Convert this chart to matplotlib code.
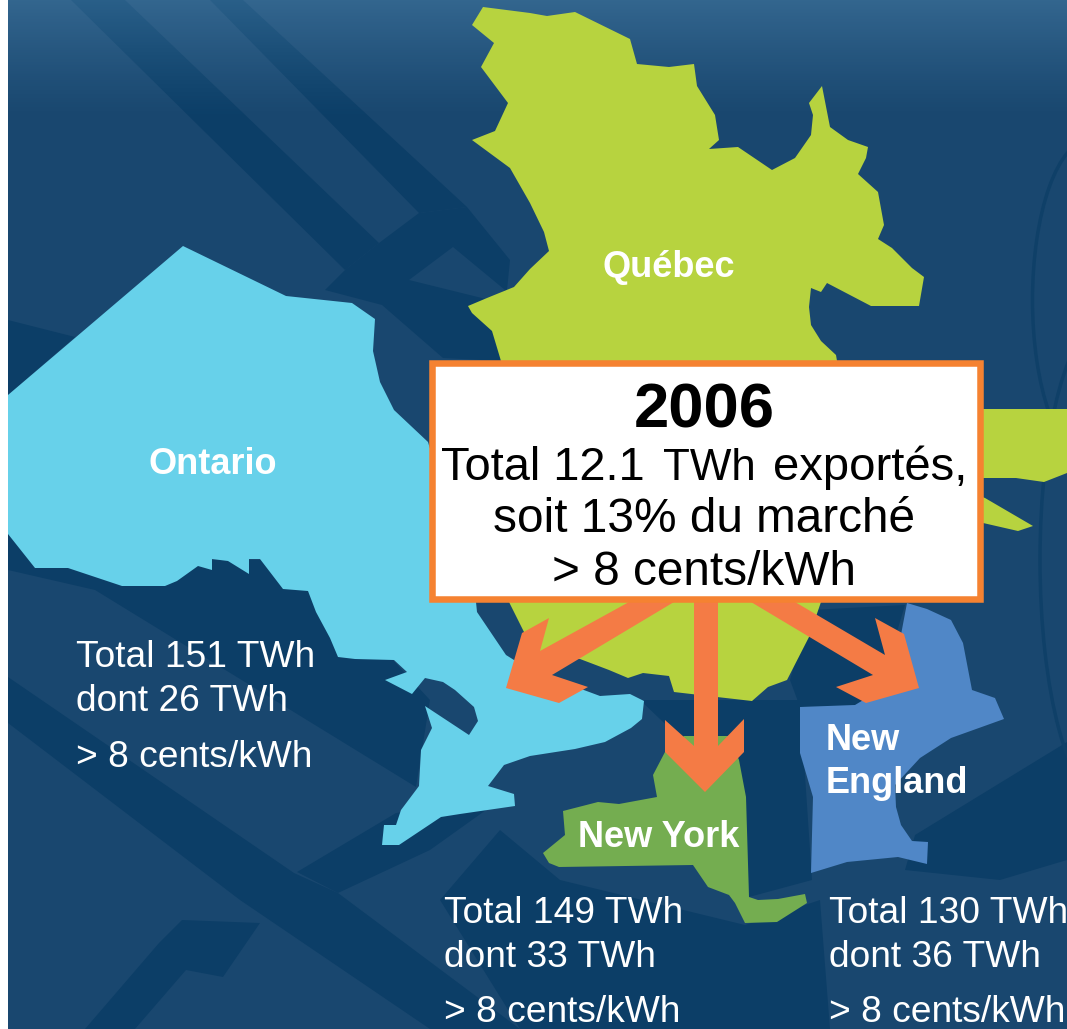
import numpy as np
import matplotlib
matplotlib.use('Agg')
import matplotlib.pyplot as plt
from matplotlib.patches import Polygon, Rectangle, Arc

plt.rcParams['font.family'] = ['Liberation Sans', 'DejaVu Sans']

# Region outlines in pixels (x, y)
quebec = [(483, 7), (530, 13), (547, 16), (575, 12), (630, 39), (637, 64), (669, 67), (694, 64),
          (697, 86), (715, 115), (719, 140), (709, 149), (738, 147), (772, 170), (795, 158),
          (811, 135), (813, 115), (809, 103), (822, 86), (830, 127), (848, 140), (868, 147),
          (866, 158), (858, 174), (878, 192), (884, 225), (878, 239), (892, 248), (912, 268),
          (924, 277), (919, 306), (871, 306), (827, 283), (821, 292), (811, 288), (809, 307),
          (811, 325), (821, 341), (836, 355), (837, 361), (821, 602), (809, 637), (787, 680),
          (768, 687), (752, 701), (717, 697), (674, 692), (669, 676), (643, 673), (628, 678),
          (609, 670), (580, 659), (540, 655), (524, 632), (509, 602), (501, 361), (492, 331),
          (472, 313), (468, 306), (487, 298), (514, 287), (530, 269), (549, 251), (544, 232),
          (530, 203), (510, 168), (472, 140), (495, 131), (508, 103), (481, 67), (494, 43),
          (472, 25)]
quebec_east = [(970, 409), (1067, 409), (1067, 473), (1044, 482), (1016, 478), (970, 478)]
quebec_tip = [(970, 492), (985, 498), (1033, 526), (1018, 531), (970, 520)]
ontario = [(8, 395), (183, 246), (286, 296), (352, 303), (375, 319), (373, 351), (380, 382),
           (394, 410), (428, 442), (476, 602), (477, 612), (506, 655), (530, 670), (600, 696),
           (630, 694), (644, 701), (642, 719), (631, 728), (605, 742), (575, 749), (530, 756),
           (504, 765), (488, 786), (514, 794), (515, 806), (460, 814), (441, 817), (399, 845),
           (382, 845), (384, 825), (396, 825), (401, 810), (419, 786), (421, 750), (432, 728),
           (425, 706), (469, 735), (478, 721), (474, 707), (455, 690), (443, 682), (425, 678),
           (412, 694), (385, 680), (407, 672), (394, 660), (355, 659), (338, 657), (330, 638),
           (316, 612), (308, 591), (283, 589), (260, 559), (249, 559), (249, 574), (228, 561),
           (212, 559), (212, 570), (198, 566), (177, 581), (165, 586), (122, 586), (68, 568),
           (35, 568), (8, 534)]
new_york = [(684, 736), (729, 736), (739, 760), (746, 797), (749, 897), (758, 900), (778, 899),
            (805, 894), (807, 903), (777, 922), (745, 923), (735, 903), (729, 895), (708, 887),
            (693, 865), (559, 867), (549, 863), (543, 853), (565, 835), (563, 811), (598, 802),
            (619, 804), (657, 797), (653, 775), (665, 752)]
new_england = [(907, 603), (927, 609), (951, 620), (963, 643), (972, 690), (995, 698), (1004, 719),
               (951, 738), (920, 758), (895, 785), (896, 807), (901, 825), (912, 841), (928, 842),
               (927, 864), (898, 857), (847, 862), (811, 873), (813, 797), (800, 753), (800, 707),
               (855, 705), (880, 690), (900, 640)]

arrow_left = [(629, 602), (674, 602), (552, 675), (588, 687), (559, 703), (506, 688), (522, 633),
              (549, 618), (540, 651)]
arrow_mid = [(694, 602), (718, 602), (718, 746), (744, 719), (744, 752), (705, 792), (665, 752),
             (665, 720), (694, 746)]
arrow_right = [(751, 602), (795, 602), (885, 655), (875, 618), (904, 634), (919, 688), (866, 703),
               (836, 687), (873, 675)]

# darker strips of the background photo
bands = [
    [(71, 0), (125, 0), (379, 243), (345, 270)],
    [(210, 0), (243, 0), (467, 207), (419, 213)],
    [(345, 270), (379, 243), (419, 213), (467, 207), (510, 260), (500, 361), (443, 358),
     (382, 305), (325, 290)],
    [(8, 320), (75, 337), (8, 395)],
    [(8, 534), (8, 570), (95, 590), (416, 787), (430, 700), (300, 560), (100, 560)],
    [(396, 813), (297, 872), (338, 893), (430, 850), (500, 800)],
    [(8, 677), (294, 873), (338, 893), (520, 1029), (430, 1029), (240, 900), (8, 723)],
    [(159, 943), (182, 920), (260, 923), (223, 977), (186, 970), (135, 1029), (85, 1029)],
    [(500, 830), (560, 880), (745, 925), (820, 900), (830, 1029), (520, 1029), (440, 900)],
    [(640, 700), (800, 700), (812, 880), (749, 897), (745, 800)],
    [(915, 835), (1067, 742), (1067, 860), (1000, 880), (905, 870)],
    [(810, 610), (905, 605), (875, 705), (800, 707), (790, 680)],
]
# lighter square left inside the crossing of the strips
light_patches = [[(453, 247), (505, 290), (490, 300), (409, 280)]]
gradient_top = [0.5, 0.75, 0.92]

region_names = ['Québec', 'Ontario', 'New York', 'New', 'England']
region_x = [603, 148, 578, 826, 826]
region_y = [277, 474, 847, 750, 793]

side_lines = [
    ['Total 151 TWh', 'dont 26 TWh', '> 8 cents/kWh'],
    ['Total 149 TWh', 'dont 33 TWh', '> 8 cents/kWh'],
    ['Total 130 TWh', 'dont 36 TWh', '> 8 cents/kWh'],
]
side_x = [76, 444, 829]
side_y = [[667, 711, 767], [923, 967, 1022], [923, 967, 1022]]

fig = plt.figure(figsize=(10.67, 10.29), dpi=100, facecolor='white')
ax = fig.add_axes([0, 0, 1, 1])
ax.set_xlim(0, 1067)
ax.set_ylim(1029, 0)
ax.axis('off')

clip = Rectangle((8, 0), 1059, 1029, facecolor='#19476f', edgecolor='none', zorder=1)
ax.add_patch(clip)
for b in bands:
    p = Polygon(b, closed=True, facecolor='#0c3e67', edgecolor='none', zorder=2)
    ax.add_patch(p)
    p.set_clip_path(clip)
for b in light_patches:
    ax.add_patch(Polygon(b, closed=True, facecolor='#19476f', edgecolor='none', zorder=2.1))

# faint arcs on the right side
for cx, cy, w, h in [(1090, 300, 115, 320), (1105, 560, 130, 480)]:
    ax.add_patch(Arc((cx, cy), w, h, color='#0f4068', lw=2.5, zorder=2))

# light fade at the top of the picture
fade = np.zeros((120, 1, 4))
fade[:, 0, :3] = gradient_top
fade[:, 0, 3] = 0.26 * (1 - np.arange(120) / 120) ** 1.2
ax.imshow(fade, extent=(8, 1067, 120, 0), aspect='auto', zorder=3, interpolation='bilinear')
ax.set_xlim(0, 1067)
ax.set_ylim(1029, 0)

for outline, col in [(quebec, '#b7d33f'), (quebec_east, '#b7d33f'), (quebec_tip, '#b7d33f'),
                     (ontario, '#67d1ea'), (new_york, '#74ad50'), (new_england, '#5087c7')]:
    ax.add_patch(Polygon(outline, closed=True, facecolor=col, edgecolor='none', zorder=4))

for arrow in [arrow_left, arrow_mid, arrow_right]:
    ax.add_patch(Polygon(arrow, closed=True, facecolor='#f47b45', edgecolor='none', zorder=5))

ax.add_patch(Rectangle((431.5, 363), 548.5, 235.5, facecolor='white', edgecolor='#f58231',
                       lw=4.7, joinstyle='miter', zorder=6))

for name, x, y in zip(region_names, region_x, region_y):
    ax.text(x, y, name, color='white', fontsize=26, fontweight='bold', va='baseline', zorder=7)

for lines, x, ys in zip(side_lines, side_x, side_y):
    for line, y in zip(lines, ys):
        ax.text(x, y, line, color='white', fontsize=26.7, va='baseline', zorder=7)

ax.text(704, 427, '2006', color='black', fontsize=45.6, fontweight='bold', ha='center',
        va='baseline', zorder=7)
# TWh is a bit smaller than the rest of this line
ax.text(441, 480, 'Total 12.1', color='black', fontsize=33.8, va='baseline', zorder=7)
ax.text(663, 480, 'TWh', color='black', fontsize=31.7, va='baseline', zorder=7)
ax.text(773, 480, 'exportés,', color='black', fontsize=34, va='baseline', zorder=7)
ax.text(704, 532, 'soit 13% du marché', color='black', fontsize=34.4, ha='center', va='baseline', zorder=7)
ax.text(704, 585, '> 8 cents/kWh', color='black', fontsize=34.4, ha='center', va='baseline', zorder=7)

fig.savefig('out.png', dpi=100)
